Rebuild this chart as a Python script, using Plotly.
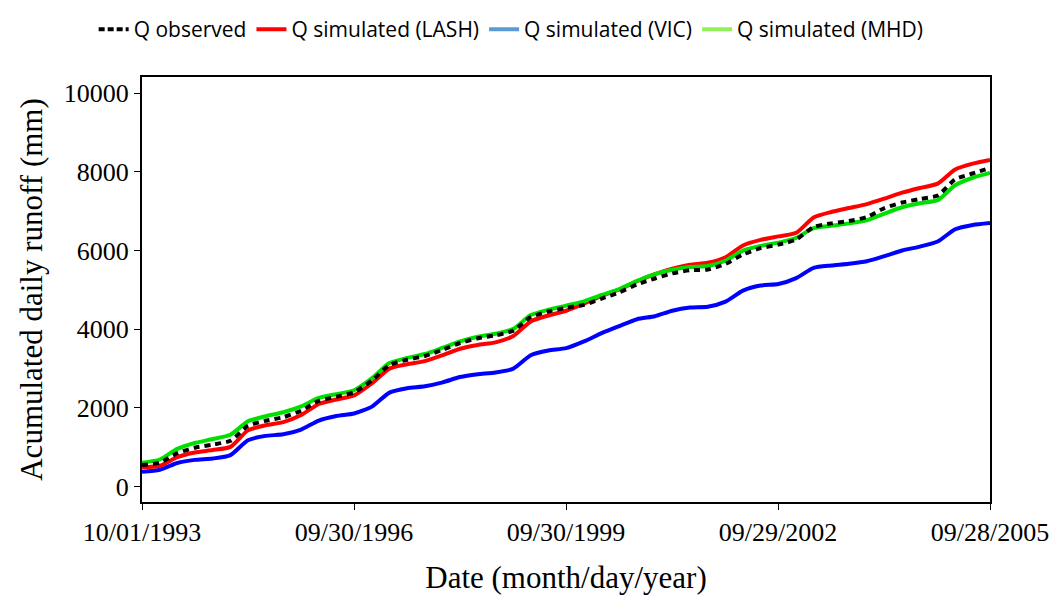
import plotly.graph_objects as go
import pandas as pd

# quarterly sampling, Oct 1993 - Sep 2005
dates = list(pd.date_range("1993-10-01", periods=49, freq="QS-OCT"))
dates[-1] = pd.Timestamp("2005-09-28")

q_observed = [550, 610, 850, 990, 1070, 1165, 1545, 1675, 1765, 1930, 2180, 2285, 2400,
              2700, 3090, 3225, 3320, 3480, 3650, 3770, 3845, 3965, 4310, 4450, 4545,
              4620, 4780, 4935, 5140, 5290, 5420, 5500, 5520, 5660, 5900, 6060, 6150,
              6280, 6600, 6690, 6750, 6850, 7080, 7220, 7310, 7400, 7810, 7960, 8100]
q_lash = [490, 530, 750, 870, 930, 1010, 1430, 1560, 1640, 1820, 2100, 2215, 2320,
          2628, 3000, 3110, 3190, 3340, 3505, 3600, 3665, 3830, 4200, 4350, 4470,
          4650, 4850, 5010, 5220, 5400, 5540, 5640, 5690, 5830, 6130, 6270, 6360,
          6450, 6840, 6980, 7080, 7180, 7320, 7470, 7590, 7700, 8060, 8210, 8305]
q_vic = [380, 430, 600, 680, 715, 800, 1180, 1290, 1330, 1450, 1680, 1795, 1860,
         2034, 2390, 2500, 2550, 2650, 2785, 2855, 2900, 3000, 3340, 3460, 3520,
         3690, 3900, 4080, 4255, 4330, 4470, 4550, 4570, 4700, 4980, 5110, 5150,
         5300, 5560, 5620, 5665, 5730, 5860, 6000, 6100, 6230, 6540, 6650, 6700]
q_mhd = [610, 690, 960, 1110, 1210, 1320, 1660, 1790, 1890, 2040, 2255, 2350, 2450,
         2756, 3140, 3270, 3370, 3530, 3690, 3810, 3885, 4010, 4360, 4495, 4600,
         4710, 4870, 5020, 5230, 5400, 5510, 5580, 5605, 5740, 6000, 6118, 6200,
         6320, 6570, 6630, 6690, 6770, 6940, 7100, 7200, 7280, 7660, 7850, 7970]

tick_dates = ["1993-10-01", "1996-09-30", "1999-09-30", "2002-09-29", "2005-09-28"]
tick_labels = ["10/01/1993", "09/30/1996", "09/30/1999", "09/29/2002", "09/28/2005"]
y_ticks = [0, 2000, 4000, 6000, 8000, 10000]

serif = "Liberation Serif"
fig = go.Figure()

# curves (drawn in this order so the observed dots sit on top)
for y, color in [(q_vic, "#0000ff"), (q_lash, "#ff0000"), (q_mhd, "#00e000")]:
    fig.add_trace(go.Scatter(x=dates, y=y, mode="lines", showlegend=False,
                             line=dict(color=color, width=4, shape="spline", smoothing=0.6)))
fig.add_trace(go.Scatter(x=dates, y=q_observed, mode="lines", showlegend=False,
                         line=dict(color="black", width=4, dash="6px,5px",
                                   shape="spline", smoothing=0.6)))

# legend entries (legend sample colours differ slightly from the curves)
legend_items = [("Q observed", "black", "6px,3px"),
                ("Q simulated (LASH)", "#ff0000", "solid"),
                ("Q simulated (VIC)", "#5b9bd5", "solid"),
                ("Q simulated (MHD)", "#92f05a", "solid")]
for name, color, dash in legend_items:
    fig.add_trace(go.Scatter(x=[None], y=[None], mode="lines", name=name,
                             line=dict(color=color, width=4, dash=dash)))

# page body adds an 8px offset, margins compensate for it
fig.update_layout(
    width=1064, height=596,
    margin=dict(l=134, r=82, t=69, b=102, autoexpand=False),
    plot_bgcolor="white", paper_bgcolor="white",
    showlegend=True,
    legend=dict(orientation="h", x=-0.057, xanchor="left", y=1.16, yanchor="top",
                font=dict(family="Open Sans", size=21, color="black"),
                itemwidth=30, tracegroupgap=0, bgcolor="rgba(0,0,0,0)"),
    xaxis=dict(
        type="date",
        range=["1993-10-01", "2005-09-28"],
        tickvals=tick_dates, ticktext=tick_labels,
        ticks="outside", ticklen=6, tickcolor="black",
        showline=True, linecolor="black", linewidth=2, mirror=True,
        showgrid=False, zeroline=False,
        tickfont=dict(family=serif, size=26, color="black"),
        title=dict(text="Date (month/day/year)", standoff=20,
                   font=dict(family=serif, size=31, color="black")),
    ),
    yaxis=dict(
        range=[-390, 10410],
        tickvals=y_ticks, ticktext=[str(v) for v in y_ticks],
        ticks="outside", ticklen=6, tickcolor="black",
        showline=True, linecolor="black", linewidth=2, mirror=True,
        showgrid=False, zeroline=False,
        tickfont=dict(family=serif, size=26, color="black"),
        title=dict(text="Acumulated daily runoff (mm)", standoff=12,
                   font=dict(family=serif, size=31, color="black")),
    ),
)

fig.write_html("out.html")
